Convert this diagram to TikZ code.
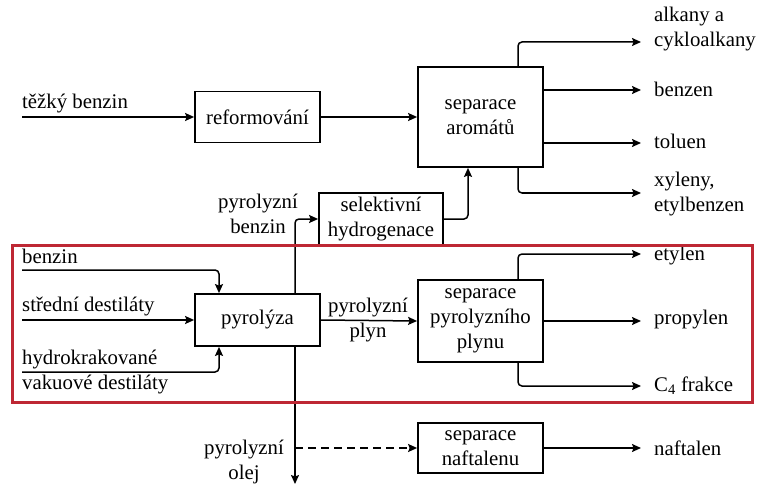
\documentclass[tikz,border=0pt]{standalone}
\usepackage{fontspec}
\setmainfont{LiberationSerif}[Extension=.ttf, UprightFont=*-Regular, BoldFont=*-Bold]
\usetikzlibrary{arrows.meta}
\definecolor{ramec}{RGB}{190,40,52}
\tikzset{
  blok/.style={draw, line width=1.8pt, inner sep=0pt, align=center, minimum width=125pt},
  sipka/.style={-{Stealth[length=9pt,width=8pt,inset=1.5pt]}, line width=1.5pt, rounded corners=4pt},
  popis/.style={inner sep=0pt, align=left, anchor=west},
  stred/.style={inner sep=0pt, align=center},
}
\begin{document}
\begin{tikzpicture}[x=1pt, y=-1pt, font=\fontsize{20.8}{25}\selectfont]
        \useasboundingbox (0,0) rectangle (758,484);

        \node[blok, minimum height=51pt] (ref) at (257.5,117) {reformování};
        \node[blok, minimum height=100pt] (sa) at (480.5,117) {separace\\aromátů};
        \node[blok, minimum width=124pt, minimum height=52pt] (sh) at (381,219) {selektivní\\hydrogenace};
        \node[blok, minimum height=52pt] (pyr) at (257.5,320) {pyrolýza};
        \node[blok, minimum height=82pt] (spp) at (480.5,321) {separace\\pyrolyzního\\plynu};
        \node[blok, minimum height=50pt] (sn) at (480.5,448) {separace\\naftalenu};

        \node[popis] (l_tb) at (22,104) {těžký benzin};
        \node[popis] (l_b) at (22,256) {benzin};
        \node[popis] (l_sd) at (22,307) {střední destiláty};
        \node[popis] (l_hk) at (22,372) {hydrokrakované\\vakuové destiláty};
        \node[stred] (l_pb) at (258,214) {pyrolyzní\\benzin};
        \node[stred] (l_pp) at (368,320) {pyrolyzní\\plyn};
        \node[stred] (l_po) at (244,462) {pyrolyzní\\olej};

        \node[popis] (l_alk) at (654,29) {alkany a\\cykloalkany};
        \node[popis] (l_benz) at (654,89) {benzen};
        \node[popis] (l_tol) at (654,141) {toluen};
        \node[popis] (l_xyl) at (654,194) {xyleny,\\etylbenzen};
        \node[popis] (l_et) at (654,256) {etylen};
        \node[popis] (l_pr) at (654,320) {propylen};
        \node[popis] (l_c4) at (654,386) {C\textsubscript{4} frakce};
        \node[popis] (l_naf) at (654,448) {naftalen};

        \coordinate (in_tb) at (22,117);
        \coordinate (in_b) at (22,270);
        \coordinate (in_sd) at (22,320);
        \coordinate (in_hk) at (22,372);
        \coordinate (out_alk) at (641,42);
        \coordinate (out_benz) at (641,90);
        \coordinate (out_tol) at (641,143);
        \coordinate (out_xyl) at (641,193);
        \coordinate (out_et) at (641,254);
        \coordinate (out_pr) at (641,321);
        \coordinate (out_c4) at (641,386);
        \coordinate (out_naf) at (641,448);
        \coordinate (out_olej) at (295,484);
        \coordinate (odb) at (295,448);

        \draw[sipka] (in_tb) -- (ref.west);
        \draw[sipka] (ref.east) -- (sa.west);
        \draw[sipka] ([xshift=37.5pt]sa.north) |- (out_alk);
        \draw[sipka] (sa.east |- out_benz) -- (out_benz);
        \draw[sipka] (sa.east |- out_tol) -- (out_tol);
        \draw[sipka] ([xshift=37.5pt]sa.south) |- (out_xyl);
        \draw[sipka] (sh.east) -| ([xshift=-12.5pt]sa.south);

        \draw[sipka] (in_b) -| ([xshift=-38.5pt]pyr.north);
        \draw[sipka] (in_sd) -- (pyr.west);
        \draw[sipka] (in_hk) -| ([xshift=-38.5pt]pyr.south);
        \draw[sipka] ([xshift=37.5pt]pyr.north) |- (sh.west);
        \draw[sipka] ([xshift=37.5pt]pyr.south) -- (out_olej);
        \draw[sipka] (pyr.east) -- (spp.west);

        \draw[sipka] ([xshift=37.5pt]spp.north) |- (out_et);
        \draw[sipka] (spp.east) -- (out_pr);
        \draw[sipka] ([xshift=37.5pt]spp.south) |- (out_c4);

        \draw[sipka, dash pattern=on 8pt off 5pt] (odb) -- (sn.west);
        \draw[sipka] (sn.east) -- (out_naf);

        \draw[ramec, line width=3pt] (12,245) rectangle (752,402);
\end{tikzpicture}
\end{document}
